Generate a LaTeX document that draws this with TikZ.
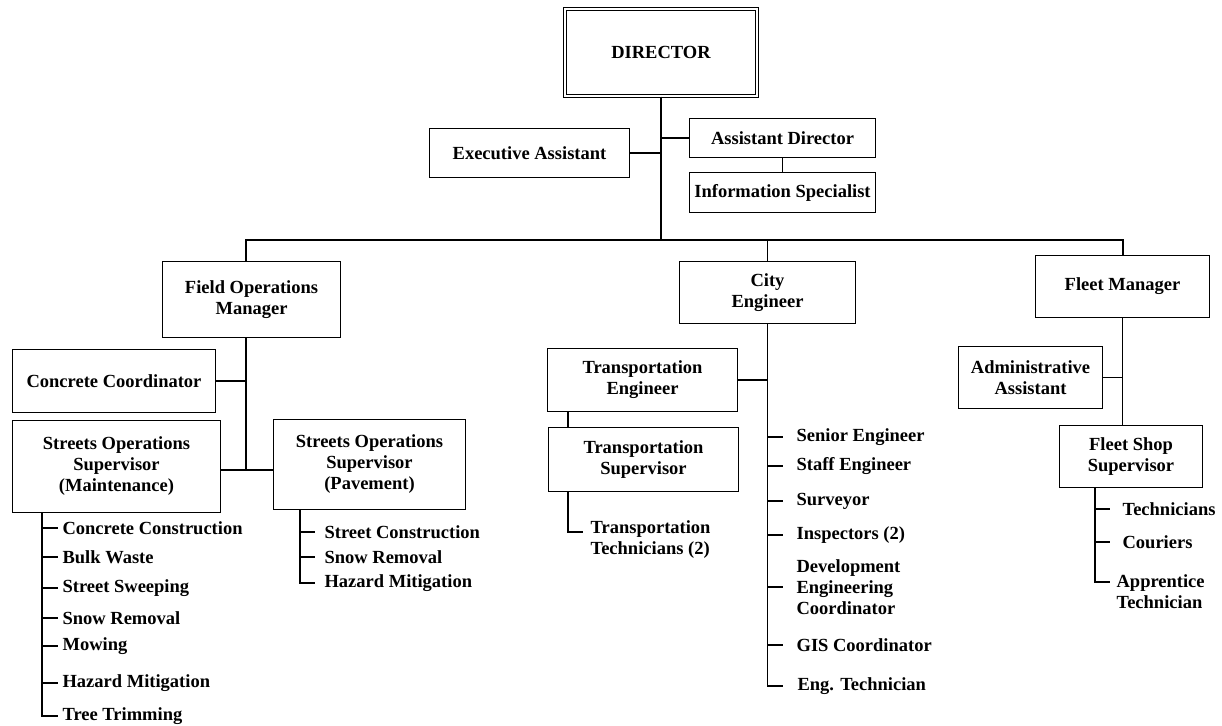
\documentclass[tikz,border=0pt]{standalone}
\usepackage{fontspec}
\setmainfont{Liberation Serif}

\begin{document}
\begin{tikzpicture} [x=1pt, y=-1pt, line width=1.2pt,
    every node/.style={font=\bfseries\fontsize{18.5}{21}\selectfont, align=center},
    box/.style={draw, inner sep=0pt},
    item/.style={anchor=west, inner ysep=1pt, inner xsep=#1, align=left},
    item/.default=4pt]
            \useasboundingbox (0, 0) rectangle (1222, 725);

            % boxes
            \node[box, double, double distance=1.5pt, minimum width=192pt, minimum height=87pt] (director) at (661, 52.5) {DIRECTOR};
            \node[box, minimum width=200pt, minimum height=49pt] (exec)      at (529.5, 153)   {Executive Assistant};
            \node[box, minimum width=186pt, minimum height=39pt] (asstdir)   at (782.5, 138)   {Assistant Director};
            \node[box, minimum width=186pt, minimum height=40pt] (infospec)  at (782.5, 192.5) {Information Specialist};
            \node[box, minimum width=178pt, minimum height=76pt] (fieldops)  at (251.5, 299.5) {Field Operations\\Manager};
            \node[box, minimum width=176pt, minimum height=62pt] (cityeng)   at (767.5, 292.5) {City\\Engineer};
            \node[box, minimum width=174pt, minimum height=62pt] (fleetmgr)  at (1122.5, 286.5) {Fleet Manager};
            \node[box, minimum width=203pt, minimum height=63pt] (concrete)  at (114, 381)     {Concrete Coordinator};
            \node[box, minimum width=208pt, minimum height=92pt] (stmaint)   at (116.5, 466.5) {Streets Operations\\Supervisor\\(Maintenance)};
            \node[box, minimum width=192pt, minimum height=90pt] (stpave)    at (369.5, 464.5) {Streets Operations\\Supervisor\\(Pavement)};
            \node[box, minimum width=190pt, minimum height=63pt] (transeng)  at (642.5, 380)   {Transportation\\Engineer};
            \node[box, minimum width=190pt, minimum height=64pt] (transsup)  at (643.5, 459.5) {Transportation\\Supervisor};
            \node[box, minimum width=144pt, minimum height=62pt] (adminasst) at (1030.5, 377.5) {Administrative\\Assistant};
            \node[box, minimum width=143pt, minimum height=62pt] (shopsup)   at (1131, 456.5)  {Fleet Shop\\Supervisor};

            % corner points of the lines
            \coordinate (busL)    at (246, 240);
            \coordinate (busR)    at (1123, 240);
            \coordinate (fotrunk) at (246, 470);
            \coordinate (mtop)    at (42, 513);
            \coordinate (ptop)    at (300, 510);
            \coordinate (tslink)  at (568, 492);
            \coordinate (fstop)   at (1095, 488);

            % maintenance list
            \node[item] (conc)  at (58, 528) {Concrete Construction};
            \node[item] (bulk)  at (58, 557) {Bulk Waste};
            \node[item] (sweep) at (58, 588) {Street Sweeping};
            \node[item] (snowm) at (58, 618) {Snow Removal};
            \node[item] (mow)   at (58, 646) {Mowing};
            \node[item] (hazm)  at (58, 683) {Hazard Mitigation};
            \node[item] (tree)  at (58, 716) {Tree Trimming};

            % pavement list
            \node[item=9pt] (stcon) at (315, 532) {Street Construction};
            \node[item=9pt] (snowp) at (315, 557) {Snow Removal};
            \node[item=9pt] (hazp)  at (315, 583) {Hazard Mitigation};

            % engineering list
            \node[item=13pt] (senior)     at (783, 437) {Senior Engineer};
            \node[item=13pt] (staff)      at (783, 466) {Staff Engineer};
            \node[item=13pt] (surveyor)   at (783, 501) {Surveyor};
            \node[item=13pt] (inspectors) at (783, 535) {Inspectors (2)};
            \node[item=13pt] (develop)    at (783, 587) {Development\\Engineering\\Coordinator};
            \node[item=13pt] (gis)        at (783, 645) {GIS Coordinator};
            \node[item=14pt] (engtech)    at (783, 686) {Eng. Technician};
            \node[item=7pt, anchor=north west] (transtech) at (583, 519) {Transportation\\Technicians (2)};

            % fleet list
            \node[item=12pt] (techs)    at (1110, 509) {Technicians};
            \node[item=12pt] (couriers) at (1110, 542) {Couriers};
            \node[item=6pt, anchor=north west] (apprentice) at (1110, 573) {Apprentice\\Technician};

            % director
            \draw (director.south) -- (director.south |- busL);
            \draw (exec.east) -- (exec.east -| director.south);
            \draw (asstdir.west) -- (asstdir.west -| director.south);
            \draw (asstdir) -- (infospec);
            \draw (fieldops.north -| busL) -- (busL) -- (busR) -- (fleetmgr.north -| busR);
            \draw (cityeng.north) -- (cityeng.north |- busL);

            % field operations
            \draw (fieldops.south -| busL) -- (fotrunk);
            \draw (concrete.east) -- (concrete.east -| busL);
            \draw (stmaint.east |- fotrunk) -- (stpave.west |- fotrunk);
            \draw (mtop) |- (tree.west);
            \draw (mtop |- conc.west) -- (conc.west)   (mtop |- bulk.west) -- (bulk.west)
                  (mtop |- sweep.west) -- (sweep.west) (mtop |- snowm.west) -- (snowm.west)
                  (mtop |- mow.west) -- (mow.west)     (mtop |- hazm.west) -- (hazm.west);
            \draw (ptop) |- (hazp.west);
            \draw (ptop |- stcon.west) -- (stcon.west) (ptop |- snowp.west) -- (snowp.west);

            % city engineer
            \draw (cityeng.south) |- (engtech.west);
            \draw (transeng.east) -- (transeng.east -| cityeng.south);
            \draw (cityeng.south |- senior.west) -- (senior.west)         (cityeng.south |- staff.west) -- (staff.west)
                  (cityeng.south |- surveyor.west) -- (surveyor.west)     (cityeng.south |- inspectors.west) -- (inspectors.west)
                  (cityeng.south |- develop.west) -- (develop.west)       (cityeng.south |- gis.west) -- (gis.west);
            \draw (transeng.south -| tslink) -- (transsup.north -| tslink);
            \draw (tslink) |- ([yshift=-13pt]transtech.north west);

            % fleet
            \draw (fleetmgr.south) -- (fleetmgr.south |- shopsup.north);
            \draw (adminasst.east) -- (adminasst.east -| fleetmgr.south);
            \draw (fstop) |- ([yshift=-9pt]apprentice.north west);
            \draw (fstop |- techs.west) -- (techs.west) (fstop |- couriers.west) -- (couriers.west);
        \end{tikzpicture}
\end{document}
